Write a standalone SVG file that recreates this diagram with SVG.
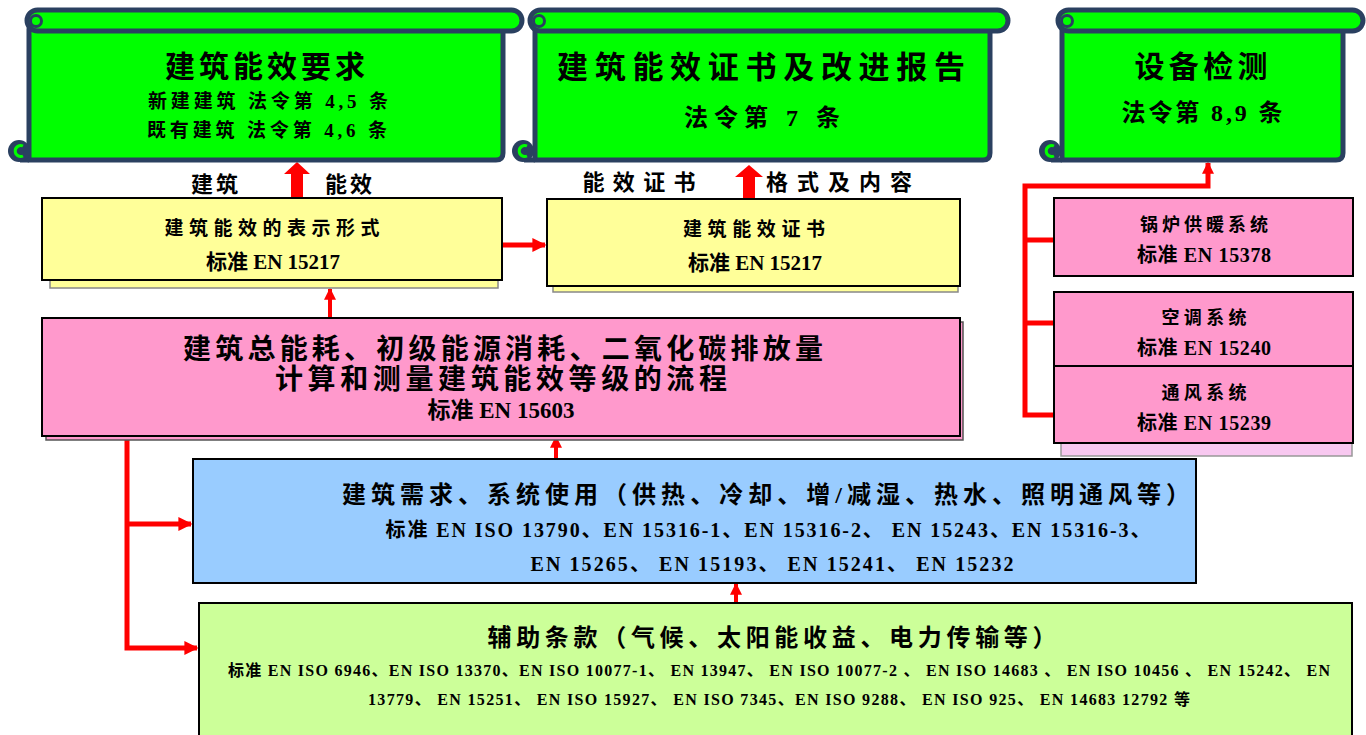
<svg xmlns="http://www.w3.org/2000/svg" width="1366" height="735" viewBox="0 0 1366 735">
<style>
.body{fill:#00ff00;stroke:#2a4060;stroke-width:5;stroke-linejoin:round}
.bar{fill:#00ff00;stroke:#2a4060;stroke-width:5}
.curl{fill:#2a4060}
.curlin{fill:none;stroke:#00ff00;stroke-width:3}
.curltop{fill:none;stroke:#2a4060;stroke-width:3}
text{font-family:"Liberation Serif","Noto Sans CJK SC",serif;font-weight:bold;fill:#000;text-anchor:middle}
.yellow{fill:#ffff99;stroke:#000;stroke-width:2}
.yshadow{fill:#ffff99;stroke:#888;stroke-width:1.5}
.pink{fill:#ff99cc;stroke:#000;stroke-width:2}
.pshadow{fill:#ff99cc;stroke:#555;stroke-width:1.5}
.blue{fill:#99ccff;stroke:#000;stroke-width:2}
.green{fill:#ccff99;stroke:#000;stroke-width:2}
.conn{fill:none;stroke:#ff0000;stroke-width:5}
.connthin{fill:none;stroke:#ff0000;stroke-width:4}
.block{fill:#ff0000}
</style>
<defs>
<marker id="ah" viewBox="0 0 10 10" refX="9" refY="5" markerWidth="14" markerHeight="14" markerUnits="userSpaceOnUse" orient="auto">
<path d="M0,0 L10,5 L0,10 Z" fill="#ff0000"/>
</marker>
<marker id="ahs" viewBox="0 0 10 10" refX="9" refY="5" markerWidth="12" markerHeight="12" markerUnits="userSpaceOnUse" orient="auto">
<path d="M0,0 L10,5 L0,10 Z" fill="#ff0000"/>
</marker>
</defs>
<rect width="1366" height="735" fill="#ffffff"/>

<g id="connectors">
<path class="block" d="M291,197 V174 H284 L297,162 L310,174 H303 V197 Z"/>
<path class="block" d="M743,198 V177 H735 L749,165 L763,177 H755 V198 Z"/>
<line class="connthin" x1="330" y1="318" x2="330" y2="289" marker-end="url(#ahs)"/>
<line class="conn" x1="503" y1="245" x2="545" y2="245" marker-end="url(#ah)"/>
<line class="connthin" x1="556" y1="459" x2="556" y2="437" marker-end="url(#ahs)"/>
<line class="connthin" x1="736" y1="603" x2="736" y2="584" marker-end="url(#ahs)"/>
<path class="conn" d="M127,437 V648 H197" marker-end="url(#ah)"/>
<line class="conn" x1="127" y1="524" x2="191" y2="524" marker-end="url(#ah)"/>
<path class="conn" d="M1054,415 H1025 V186 H1208 V163" marker-end="url(#ahs)"/>
<line class="conn" x1="1025" y1="240" x2="1054" y2="240"/>
<line class="conn" x1="1025" y1="323" x2="1054" y2="323"/>
</g>

<g id="scroll1">
<path class="body" d="M29,29 H503 V153 Q503,160 496,160 H29 Z"/>
<line x1="29" y1="160" x2="20" y2="160" stroke="#2a4060" stroke-width="5"/>
<rect class="bar" x="27" y="10" width="495" height="21" rx="10.5"/>
<circle class="curltop" cx="36" cy="21" r="5.5"/>
<circle class="curl" cx="19" cy="151" r="11"/>
<path class="curlin" d="M23,146 A5.5,5.5 0 1 0 23,156"/>
<text x="267" y="77" font-size="30" letter-spacing="4">建筑能效要求</text>
<text x="268" y="108" font-size="19" textLength="240">新建建筑  法令第 4,5 条</text>
<text x="267" y="137" font-size="19" textLength="240">既有建筑 法令第 4,6 条</text>
</g>

<g id="scroll2">
<path class="body" d="M535,29 H990 V153 Q990,160 983,160 H535 Z"/>
<line x1="535" y1="160" x2="524" y2="160" stroke="#2a4060" stroke-width="5"/>
<rect class="bar" x="530" y="10" width="478" height="21" rx="10.5"/>
<circle class="curltop" cx="539" cy="21" r="5.5"/>
<circle class="curl" cx="523" cy="151" r="11"/>
<path class="curlin" d="M527,146 A5.5,5.5 0 1 0 527,156"/>
<text x="761" y="78" font-size="31" textLength="408">建筑能效证书及改进报告</text>
<text x="762" y="126" font-size="24" textLength="156">法令第 7 条</text>
</g>

<g id="scroll3">
<path class="body" d="M1062,29 H1343 V153 Q1343,160 1336,160 H1062 Z"/>
<line x1="1062" y1="160" x2="1051" y2="160" stroke="#2a4060" stroke-width="5"/>
<rect class="bar" x="1058" y="10" width="305" height="21" rx="10.5"/>
<circle class="curltop" cx="1067" cy="21" r="5.5"/>
<circle class="curl" cx="1050" cy="151" r="11"/>
<path class="curlin" d="M1054,146 A5.5,5.5 0 1 0 1054,156"/>
<text x="1201" y="77" font-size="30" textLength="133">设备检测</text>
<text x="1202" y="121" font-size="24" textLength="161">法令第 8,9 条</text>
</g>

<g id="label-left">
<text x="216" y="192" font-size="22" letter-spacing="3">建筑</text>
<text x="350" y="192" font-size="22" letter-spacing="3">能效</text>
</g>
<g id="label-right">
<text x="639" y="190" font-size="22" textLength="113">能效证书</text>
<text x="839" y="190" font-size="22" textLength="146">格式及内容</text>
</g>

<g id="box-form">
<rect class="yshadow" x="50" y="206" width="448" height="82"/>
<rect class="yellow" x="42" y="198" width="460" height="82"/>
<text x="272" y="235" font-size="19" textLength="215">建筑能效的表示形式</text>
<text x="273" y="269" font-size="21">标准 EN 15217</text>
</g>

<g id="box-cert">
<rect class="yshadow" x="553" y="205" width="405" height="87"/>
<rect class="yellow" x="547" y="199" width="413" height="87"/>
<text x="754" y="236" font-size="19" textLength="142">建筑能效证书</text>
<text x="755" y="270" font-size="21">标准 EN 15217</text>
</g>

<g id="box-total">
<rect class="pshadow" x="46" y="322" width="917" height="118"/>
<rect class="pink" x="42" y="318" width="918" height="118"/>
<text x="503" y="359" font-size="28" textLength="640">建筑总能耗、初级能源消耗、二氧化碳排放量</text>
<text x="501" y="389" font-size="28" textLength="452">计算和测量建筑能效等级的流程</text>
<text x="501" y="418" font-size="23">标准 EN 15603</text>
</g>

<g id="box-demand">
<rect class="blue" x="193" y="459" width="1003" height="124"/>
<text x="766" y="503" font-size="24" textLength="848">建筑需求、系统使用（供热、冷却、增/减湿、热水、照明通风等）</text>
<text x="768" y="537" font-size="20" textLength="765">标准 EN ISO 13790、EN 15316-1、EN 15316-2、 EN 15243、EN 15316-3、</text>
<text x="772" y="571" font-size="20" textLength="483">EN 15265、 EN 15193、 EN 15241、 EN 15232</text>
</g>

<g id="box-aux">
<rect class="green" x="199" y="603" width="1153" height="140"/>
<text x="772" y="646" font-size="24" textLength="569">辅助条款（气候、太阳能收益、电力传输等）</text>
<text x="779" y="676" font-size="16" textLength="1102">标准 EN ISO 6946、EN ISO 13370、EN ISO 10077-1、 EN 13947、 EN ISO 10077-2 、 EN ISO 14683 、 EN ISO 10456 、 EN 15242、 EN</text>
<text x="779" y="705" font-size="16" textLength="822">13779、 EN 15251、 EN  ISO 15927、 EN ISO 7345、EN ISO 9288、 EN ISO 925、 EN 14683 12792 等</text>
</g>

<g id="box-boiler">
<rect class="pink" x="1054" y="198" width="299" height="78"/>
<text x="1204" y="231" font-size="18" textLength="128">锅炉供暖系统</text>
<text x="1204" y="262" font-size="20" textLength="134">标准 EN 15378</text>
</g>

<g id="box-ac">
<rect x="1061" y="436" width="291" height="20" style="fill:#f8c8f0;stroke:#999;stroke-width:1.5"/>
<rect class="pink" x="1054" y="292" width="299" height="74"/>
<text x="1204" y="324" font-size="18" textLength="85">空调系统</text>
<text x="1204" y="355" font-size="20" textLength="134">标准 EN 15240</text>
</g>

<g id="box-vent">
<rect class="pink" x="1054" y="366" width="299" height="77"/>
<text x="1204" y="399" font-size="18" textLength="85">通风系统</text>
<text x="1204" y="430" font-size="20" textLength="134">标准 EN 15239</text>
</g>
</svg>
